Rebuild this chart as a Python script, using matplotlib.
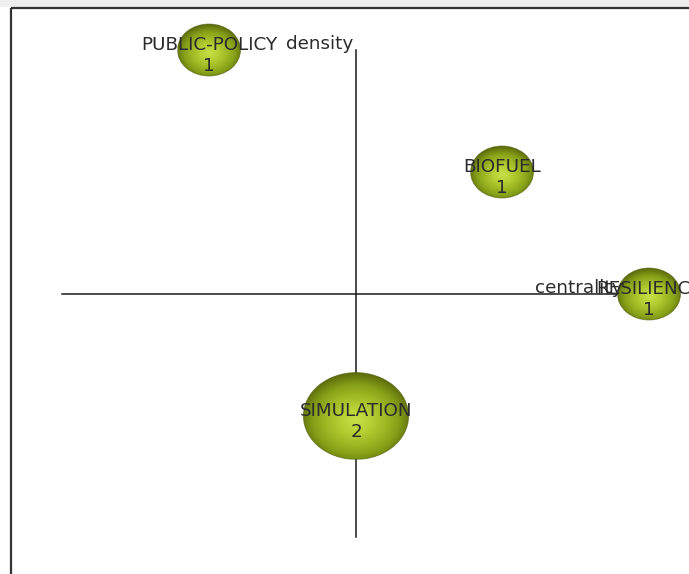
import numpy as np
import matplotlib
matplotlib.use("Agg")
import matplotlib.pyplot as plt
from matplotlib.patches import Ellipse, Rectangle
from matplotlib.colors import LinearSegmentedColormap

# ---- data ----
themes = ["PUBLIC-POLICY", "BIOFUEL", "RESILIENCE", "SIMULATION"]
centrality = [-147, 146, 293, 0]
density = [244, 122, 0, -122]
documents = [1, 1, 1, 2]

axis_labels = ["centrality", "density"]

fig = plt.figure(figsize=(6.89, 5.74), dpi=100)
ax = fig.add_axes([0, 0, 1, 1])
ax.set_xlim(-356, 333)
ax.set_ylim(-280, 294)
ax.axis("off")

# background band and border
ax.add_patch(Rectangle((-356, 287), 689, 7, facecolor="#eeeeee", edgecolor="none", zorder=0))
ax.plot([-345, 333], [286, 286], color="#333333", lw=1.6, zorder=1, solid_capstyle="butt")
ax.plot([-345, -345], [286, -280], color="#333333", lw=1.6, zorder=1, solid_capstyle="butt")

# strategic axes
ax.plot([-294, 294], [0, 0], color="#1a1a1a", lw=1.1, zorder=2)
ax.plot([0, 0], [-243, 244], color="#1a1a1a", lw=1.1, zorder=2)

txt_color = "#2b2b2b"
fs = 13.2
ax.text(-3, 245, axis_labels[1], ha="right", va="baseline", fontsize=fs,
        color=txt_color, family="DejaVu Sans", zorder=6)

cmap = LinearSegmentedColormap.from_list(
    "bub", ["#c8e046", "#b8d236", "#a2bb26", "#86a018", "#5e6c0c"])

def bubble(cx, cy, w, h):
    n = 200
    xs = np.linspace(-1, 1, n)
    X, Y = np.meshgrid(xs, xs)
    R = np.sqrt(X**2 + (Y + 0.1)**2)
    img = ax.imshow(R, extent=(cx - w / 2, cx + w / 2, cy - h / 2, cy + h / 2),
                    origin="lower", cmap=cmap, vmin=0, vmax=1.08, zorder=3,
                    interpolation="bilinear")
    clip = Ellipse((cx, cy), w, h, transform=ax.transData, facecolor="none",
                   edgecolor="none")
    ax.add_patch(clip)
    img.set_clip_path(clip)
    ax.add_patch(Ellipse((cx, cy), w, h, facecolor="none", edgecolor="#4d5a08",
                         lw=0.6, alpha=0.6, zorder=4))

for name, c, d, n in zip(themes, centrality, density, documents):
    s = n ** 0.74
    bubble(c, d, 63 * s, 52 * s)

ax.text(179, 1, axis_labels[0], ha="left", va="baseline", fontsize=fs,
        color=txt_color, family="DejaVu Sans", zorder=5)

for name, c, d, n in zip(themes, centrality, density, documents):
    ax.text(c, d + 5, name, ha="center", va="center", fontsize=fs,
            color=txt_color, family="DejaVu Sans", zorder=6)
    ax.text(c, d - 16, str(n), ha="center", va="center", fontsize=fs,
            color=txt_color, family="DejaVu Sans", zorder=6)

fig.savefig("out.png", dpi=100, facecolor="white")
